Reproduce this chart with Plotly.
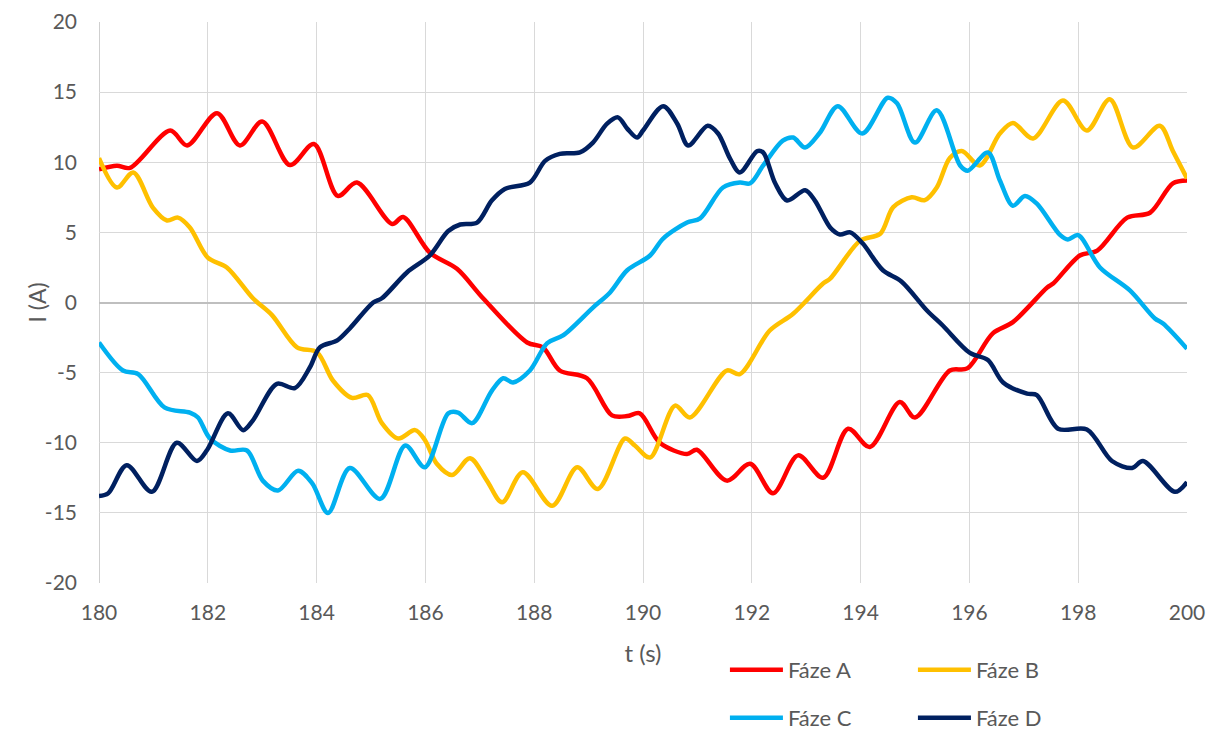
import plotly.graph_objects as go

# ---- data ----
t_a = [180.00, 180.33, 180.57, 181.31, 181.62, 182.17, 182.59, 183.00, 183.51, 183.95, 184.39, 184.74,
       185.39, 185.59, 186.08, 186.58, 187.06, 187.87, 188.16, 188.47, 188.97, 189.43, 189.71, 189.94,
       190.31, 190.81, 190.99, 191.54, 191.97, 192.39, 192.85, 193.31, 193.77, 194.17, 194.72, 195.00,
       195.64, 195.96, 196.43, 196.80, 197.43, 197.54, 198.03, 198.35, 198.90, 199.32, 199.74, 200.00]
i_a = [9.5, 9.75, 9.6, 12.26, 11.2, 13.5, 11.2, 12.9, 9.8, 11.3, 7.6, 8.55,
       5.6, 6.1, 3.56, 2.4, 0.3, -2.85, -3.2, -4.85, -5.4, -8.05, -8.1, -7.9,
       -10.0, -10.8, -10.5, -12.7, -11.5, -13.6, -10.9, -12.5, -9.0, -10.3, -7.1, -8.2,
       -4.85, -4.7, -2.2, -1.4, 1.07, 1.35, 3.35, 3.7, 6.05, 6.4, 8.5, 8.7]

t_b = [180.00, 180.33, 180.63, 180.99, 181.25, 181.45, 181.67, 182.00, 182.35, 182.83, 183.18, 183.64,
       184.01, 184.30, 184.65, 184.94, 185.20, 185.50, 185.81, 185.99, 186.21, 186.49, 186.82, 187.13,
       187.41, 187.79, 188.33, 188.79, 189.17, 189.67, 189.85, 190.13, 190.59, 190.86, 191.54, 191.78,
       192.33, 192.76, 193.31, 193.44, 193.99, 194.36, 194.60, 194.94, 195.18, 195.40, 195.64, 195.86,
       196.19, 196.56, 196.80, 197.17, 197.72, 198.16, 198.58, 199.01, 199.50, 199.74, 200.00]
i_b = [10.3, 8.2, 9.27, 6.77, 5.85, 6.05, 5.35, 3.2, 2.5, 0.3, -0.9, -3.2,
       -3.56, -5.56, -6.8, -6.6, -8.6, -9.7, -9.1, -9.8, -11.5, -12.3, -11.1, -12.7,
       -14.25, -12.1, -14.5, -11.75, -13.3, -9.7, -10.2, -11.05, -7.35, -8.2, -4.85, -5.1,
       -2.0, -0.8, 1.35, 1.7, 4.4, 4.9, 6.8, 7.5, 7.3, 8.2, 10.3, 10.8,
       9.77, 12.05, 12.8, 11.7, 14.4, 12.26, 14.5, 11.05, 12.6, 10.8, 8.85]

t_c = [180.00, 180.44, 180.72, 181.21, 181.67, 181.82, 182.04, 182.41, 182.72, 183.01, 183.29, 183.66,
       183.92, 184.21, 184.61, 185.17, 185.63, 185.99, 186.42, 186.60, 186.86, 187.22, 187.43, 187.61,
       187.92, 188.24, 188.53, 189.08, 189.39, 189.71, 190.13, 190.37, 190.81, 191.05, 191.47, 191.78,
       191.97, 192.21, 192.57, 192.76, 192.98, 193.25, 193.58, 194.03, 194.50, 194.67, 195.00, 195.40,
       195.83, 195.97, 196.34, 196.56, 196.80, 197.02, 197.24, 197.67, 197.81, 198.00, 198.40, 198.95,
       199.41, 199.56, 200.00]
i_c = [-2.85, -4.85, -5.1, -7.5, -7.85, -8.2, -9.7, -10.55, -10.55, -12.7, -13.4, -12.0,
       -12.9, -15.0, -11.8, -14.0, -10.2, -11.75, -7.9, -7.85, -8.6, -6.3, -5.4, -5.7,
       -4.85, -2.9, -2.35, -0.36, 0.7, 2.3, 3.35, 4.56, 5.7, 6.0, 8.2, 8.55,
       8.5, 9.77, 11.55, 11.76, 11.05, 12.1, 14.0, 12.05, 14.6, 14.2, 11.4, 13.7,
       9.77, 9.4, 10.7, 8.7, 6.9, 7.6, 7.05, 4.8, 4.5, 4.8, 2.5, 0.86,
       -1.14, -1.5, -3.3]

t_d = [180.00, 180.17, 180.51, 180.97, 181.43, 181.80, 181.99, 182.37, 182.65, 182.83, 183.27, 183.60,
       183.88, 184.06, 184.38, 184.61, 185.04, 185.20, 185.66, 186.08, 186.42, 186.64, 186.95, 187.22,
       187.46, 187.92, 188.20, 188.47, 188.84, 189.08, 189.34, 189.54, 189.71, 189.89, 190.00, 190.37,
       190.63, 190.83, 191.19, 191.38, 191.60, 191.78, 192.10, 192.21, 192.43, 192.65, 192.98, 193.16,
       193.44, 193.62, 193.81, 194.04, 194.41, 194.75, 195.22, 195.51, 196.01, 196.34, 196.62, 197.06,
       197.24, 197.63, 198.16, 198.62, 198.99, 199.19, 199.78, 200.00]
i_d = [-13.8, -13.6, -11.6, -13.5, -10.0, -11.3, -10.5, -7.9, -9.1, -8.4, -5.8, -6.1,
       -4.6, -3.2, -2.7, -1.85, 0.0, 0.3, 2.14, 3.35, 5.1, 5.56, 5.7, 7.27,
       8.1, 8.55, 10.1, 10.6, 10.7, 11.4, 12.75, 13.2, 12.4, 11.76, 12.26, 14.0,
       12.75, 11.2, 12.6, 12.05, 10.26, 9.27, 10.8, 10.7, 8.5, 7.27, 8.0, 7.27,
       5.35, 4.85, 5.0, 4.2, 2.3, 1.5, -0.57, -1.64, -3.6, -4.1, -5.7, -6.5,
       -6.6, -9.0, -9.05, -11.3, -11.8, -11.3, -13.5, -12.8]

names = ["Fáze A", "Fáze B", "Fáze C", "Fáze D"]
colors = ["#FF0000", "#FFC000", "#00B0F0", "#002060"]
x_ticks = list(range(180, 201, 2))
y_ticks = list(range(-20, 21, 5))
x_title = "t (s)"
y_title = "I (A)"

FONT = "Lato, 'Open Sans', sans-serif"
GRAY = "#595959"

fig = go.Figure()
series = [(t_a, i_a), (t_b, i_b), (t_c, i_c), (t_d, i_d)]
legend_ids = ["legend", "legend", "legend2", "legend2"]
for (t, v), name, col, lg in zip(series, names, colors, legend_ids):
    fig.add_trace(go.Scatter(
        x=t, y=v, name=name, mode="lines",
        line=dict(color=col, width=4.5, shape="spline", smoothing=0.9),
        legend=lg,
    ))

legend_common = dict(
    orientation="h", xanchor="left", yanchor="middle",
    font=dict(family=FONT, size=22, color=GRAY),
    bgcolor="rgba(0,0,0,0)", entrywidth=120, itemwidth=53, tracegroupgap=0,
)

# plot area in figure px: left 91, right 1179, top 14, bottom 575 (page adds 8px body margin)
fig.update_layout(
    width=1216, height=760,
    margin=dict(l=91, r=37, t=14, b=185),
    paper_bgcolor="white", plot_bgcolor="white",
    font=dict(family=FONT, size=21, color=GRAY),
    showlegend=True,
    legend=dict(x=0.5753, y=-0.1551, **legend_common),
    legend2=dict(x=0.5753, y=-0.2406, **legend_common),
    xaxis=dict(
        range=[180, 200], tickvals=x_ticks, ticktext=[str(v) for v in x_ticks],
        showgrid=True, gridcolor="#D9D9D9", gridwidth=1,
        zeroline=False, showline=False, ticks="", automargin=False,
        tickfont=dict(family=FONT, size=21, color=GRAY),
        ticklabelstandoff=15,
        title=dict(text=x_title, font=dict(family=FONT, size=24, color=GRAY), standoff=22),
    ),
    yaxis=dict(
        range=[-20, 20], tickvals=y_ticks, ticktext=[str(v) for v in y_ticks],
        showgrid=True, gridcolor="#D9D9D9", gridwidth=1,
        zeroline=True, zerolinecolor="#BFBFBF", zerolinewidth=1.5,
        showline=False, ticks="", automargin=False,
        tickfont=dict(family=FONT, size=21, color=GRAY),
        ticklabelstandoff=21,
    ),
    annotations=[dict(
        text=y_title, textangle=-90, xref="paper", yref="paper",
        x=-0.057, y=0.5, xanchor="center", yanchor="middle", showarrow=False,
        font=dict(family=FONT, size=23, color=GRAY),
    )],
    shapes=[dict(type="line", xref="x", yref="paper", x0=180, x1=180, y0=0, y1=1,
                 line=dict(color="#BFBFBF", width=1.5), layer="below")],
)

fig.write_html("out.html")
